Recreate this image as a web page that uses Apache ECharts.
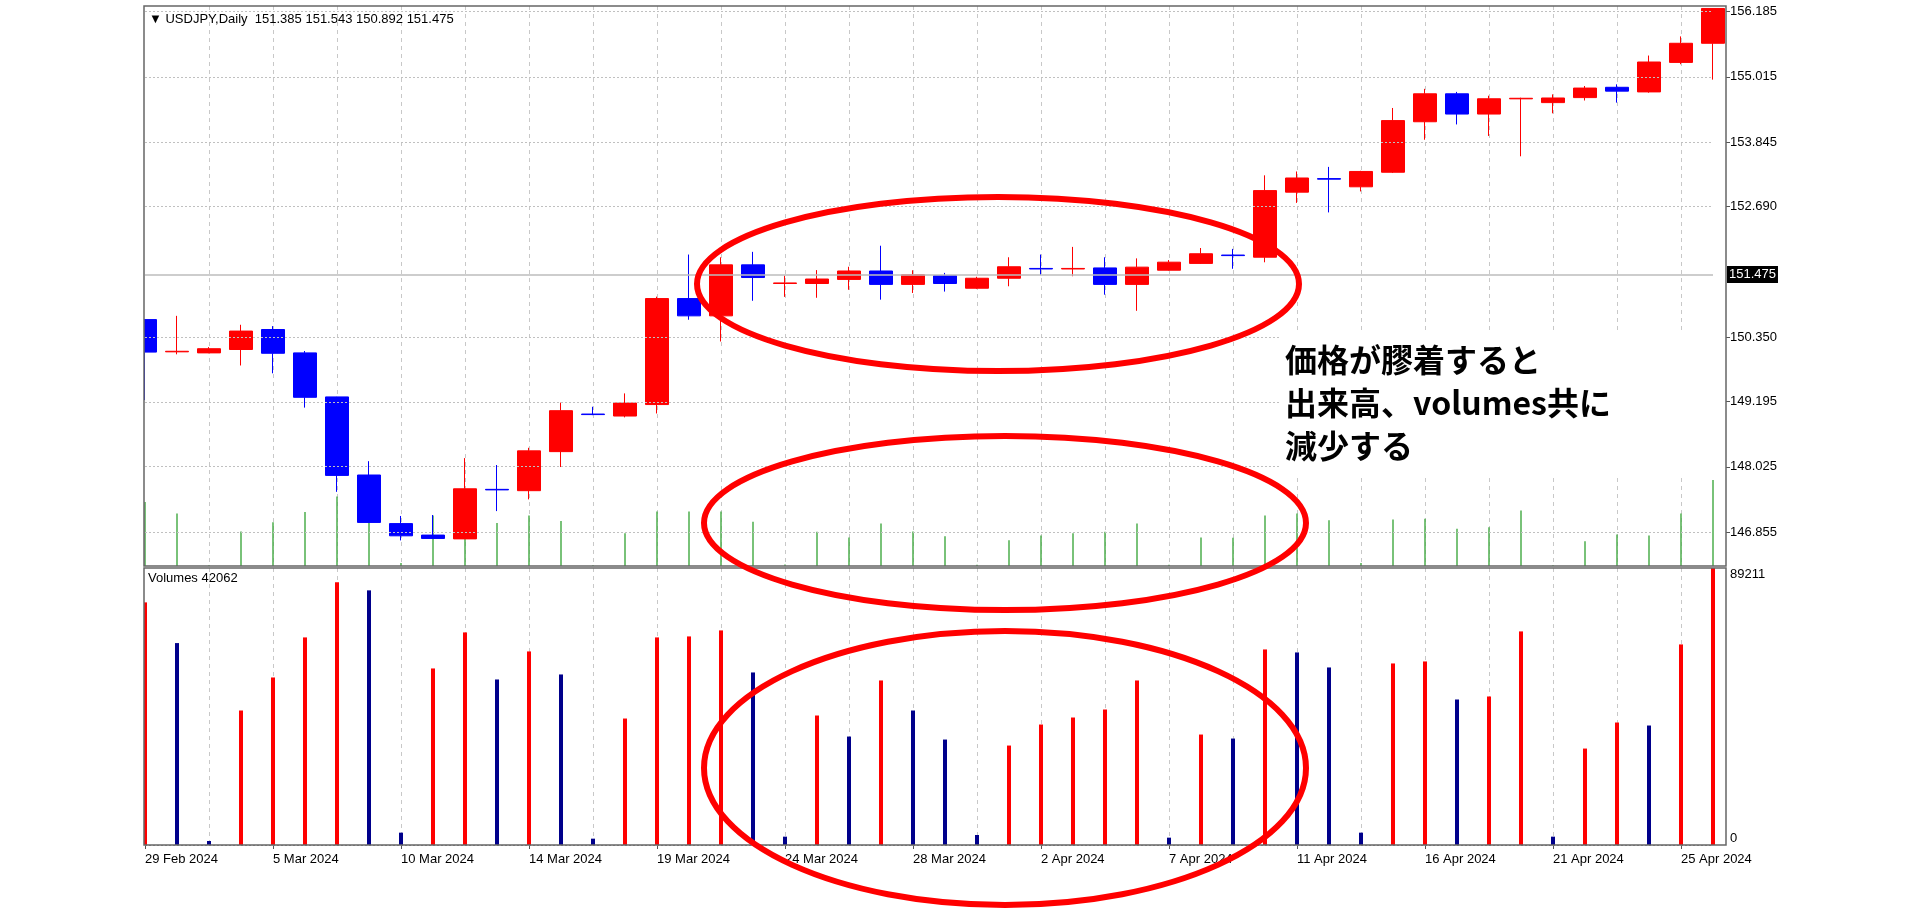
<!DOCTYPE html>
<html><head><meta charset="utf-8">
<script src="https://cdn.jsdelivr.net/npm/echarts@6/dist/echarts.min.js"></script>
<style>html,body{margin:0;padding:0;background:#fff}#c{width:1920px;height:914px}</style>
</head><body><div id="c"></div>
<script>
const dates = ['29 Feb 2024','1 Mar 2024','3 Mar 2024','4 Mar 2024','5 Mar 2024','6 Mar 2024','7 Mar 2024','8 Mar 2024','10 Mar 2024','11 Mar 2024','12 Mar 2024','13 Mar 2024','14 Mar 2024','15 Mar 2024','17 Mar 2024','18 Mar 2024','19 Mar 2024','20 Mar 2024','21 Mar 2024','22 Mar 2024','24 Mar 2024','25 Mar 2024','26 Mar 2024','27 Mar 2024','28 Mar 2024','29 Mar 2024','31 Mar 2024','1 Apr 2024','2 Apr 2024','3 Apr 2024','4 Apr 2024','5 Apr 2024','7 Apr 2024','8 Apr 2024','9 Apr 2024','10 Apr 2024','11 Apr 2024','12 Apr 2024','14 Apr 2024','15 Apr 2024','16 Apr 2024','17 Apr 2024','18 Apr 2024','19 Apr 2024','21 Apr 2024','22 Apr 2024','23 Apr 2024','24 Apr 2024','25 Apr 2024','26 Apr 2024'];
const opens  = [150.663,150.085,150.066,150.127,150.485,150.066,149.277,147.877,147.006,146.80,146.732,147.62,147.596,148.296,148.97,148.934,149.14,151.04,150.73,151.644,151.31,151.31,151.383,151.534,151.294,151.45,151.225,151.404,151.58,151.57,151.589,151.294,151.548,151.67,151.82,151.781,152.947,153.19,153.043,153.304,154.209,154.71,154.347,154.62,154.552,154.642,154.827,154.744,155.273,155.616];
const closes = [150.08,150.095,150.141,150.457,150.059,149.27,147.87,147.027,146.787,146.74,147.63,147.61,148.31,149.03,148.96,149.167,151.04,150.73,151.644,151.417,151.32,151.39,151.534,151.294,151.465,151.31,151.404,151.61,151.57,151.58,151.294,151.603,151.692,151.843,151.81,152.975,153.201,153.18,153.318,154.23,154.71,154.347,154.621,154.63,154.635,154.813,154.758,155.28,155.616,156.24];
const lows   = [149.22,150.04,150.06,149.84,149.70,149.085,147.575,147.02,146.705,146.735,146.73,147.23,147.44,148.02,148.95,148.91,148.98,150.66,150.27,151.0,151.07,151.054,151.197,151.02,151.14,151.165,151.21,151.26,151.465,151.44,151.109,150.82,151.54,151.66,151.574,151.69,152.755,152.584,152.96,153.29,153.887,154.161,153.955,153.59,154.36,154.59,154.552,154.73,155.24,154.964];
const highs  = [150.663,150.73,150.17,150.57,150.546,150.10,149.28,148.125,147.143,147.16,148.18,148.056,148.365,149.174,149.10,149.34,151.074,151.829,151.78,151.877,151.45,151.55,151.61,151.987,151.547,151.50,151.43,151.78,151.829,151.966,151.78,151.76,151.73,151.946,151.93,153.249,153.318,153.40,153.33,154.456,154.799,154.744,154.676,154.64,154.70,154.85,154.88,155.396,155.739,156.24];
const volumes = [78140,65030,1290,43315,53955,66855,84590,82010,3977,56860,68465,53310,62340,54925,2042,40735,66855,67175,69110,55570,2687,41705,34930,52990,43315,33965,3225,32030,38800,41060,43640,52990,2365,35577,34287,62985,62017,57180,3977,58470,59115,46862,47830,68790,2687,31062,39446,38480,64597,89211];
const tickVols = [168,138,2,91,115,142,183,175,8,133,148,113,133,118,2,86,143,143,143,116,4,90,75,112,91,78,3,68,80,86,90,112,3,75,74,133,138,120,8,122,124,98,102,146,2,65,83,80,138,226];
const priceTicks = [146.855,148.025,149.195,150.350,151.475,152.690,153.845,155.015,156.185];
const priceLabels = [146.855,148.025,149.195,150.350,152.690,153.845,155.015,156.185];
const lastPrice = 151.475;
const volTicks = [0,89211];

const candles = opens.map((o,i)=>[o,closes[i],lows[i],highs[i]]);
const volData = volumes.map((v,i)=>({value:v,itemStyle:{color:(i>0&&v<volumes[i-1])?'#00008b':'#ff0000'}}));
const F = 'Liberation Sans';
const chart = echarts.init(document.getElementById('c'));
const vsplit = {show:true,interval:(i)=>i>0&&i%2===0,lineStyle:{color:'#c8c8c8',type:[4,4]}};
function ell(cx,cy,rx,ry){return {type:'ellipse',shape:{cx,cy,rx,ry},style:{fill:null,stroke:'#ff0000',lineWidth:6},z:120};}
chart.setOption({
  animation:false,
  textStyle:{fontFamily:F},
  grid:[{left:145,width:1568,top:6,height:560},{left:145,width:1568,top:568,height:277}],
  xAxis:[
    {type:'category',gridIndex:0,data:dates,boundaryGap:false,axisLine:{show:false},axisTick:{show:false},axisLabel:{show:false},splitLine:vsplit},
    {type:'category',gridIndex:1,data:dates,boundaryGap:false,axisLine:{show:false},axisTick:{show:true,interval:3,length:4,lineStyle:{color:'#555'}},
     axisLabel:{interval:3,align:'left',color:'#000',fontSize:13,margin:8,fontFamily:F},splitLine:vsplit}
  ],
  yAxis:[
    {type:'value',gridIndex:0,position:'right',offset:13,min:146.246,max:156.284,
     axisLine:{show:false},axisTick:{show:true,customValues:priceLabels,length:4,lineStyle:{color:'#555'}},
     axisLabel:{customValues:priceLabels,color:'#000',fontSize:13,margin:4,fontFamily:F,formatter:v=>v.toFixed(3)},
     splitLine:{show:false}},
    {type:'value',gridIndex:0,min:0,max:1472,show:false},
    {type:'value',gridIndex:1,position:'right',offset:13,min:0,max:89211,axisLine:{show:false},
     axisTick:{show:false},axisLabel:{customValues:volTicks,color:'#000',fontSize:13,margin:4,fontFamily:F,formatter:v=>String(v),verticalAlignMinLabel:'bottom',verticalAlignMaxLabel:'top'},
     splitLine:{show:false}}
  ],
  series:[
    {type:'line',xAxisIndex:0,yAxisIndex:0,data:[],silent:true,
     markLine:{symbol:'none',silent:true,label:{show:false},lineStyle:{color:'#c0c0c0',type:[2,2],width:1},
       data:priceTicks.filter(v=>v!==lastPrice).map(v=>({yAxis:v}))}},
    {type:'bar',xAxisIndex:0,yAxisIndex:1,data:tickVols,barWidth:1.5,itemStyle:{color:'#4cae4c'},silent:true},
    {type:'candlestick',xAxisIndex:0,yAxisIndex:0,data:candles,barWidth:24,clip:false,
     itemStyle:{color:'#ff0000',color0:'#0000ff',borderColor:'#ff0000',borderColor0:'#0000ff',borderWidth:1},
     markLine:{symbol:'none',silent:true,lineStyle:{color:'#bdbdbd',type:'solid',width:1.5},
       label:{show:true,position:'end',distance:14,formatter:()=>lastPrice.toFixed(3),color:'#fff',backgroundColor:'#000',padding:[2,2],fontSize:13,fontFamily:F},
       data:[{yAxis:lastPrice}]}},
    {type:'bar',xAxisIndex:1,yAxisIndex:2,data:volData,barWidth:4,silent:true,
     markLine:{symbol:'none',silent:true,label:{show:false},lineStyle:{color:'#999',type:[2,2],width:1},data:[{yAxis:0}]}}
  ],
  graphic:[
    {type:'rect',shape:{x:0,y:0,width:144,height:914},style:{fill:'#fff'},z:100},
    {type:'rect',shape:{x:144,y:6,width:1582,height:560},style:{fill:null,stroke:'#666',lineWidth:1.5},z:101},
    {type:'rect',shape:{x:144,y:568,width:1582,height:277},style:{fill:null,stroke:'#666',lineWidth:1.5},z:101},
    {type:'text',left:149,top:13,style:{text:'▼ USDJPY,Daily  151.385 151.543 150.892 151.475',fontSize:13,fontFamily:F,fill:'#000'},z:110},
    {type:'text',left:148,top:572,style:{text:'Volumes 42062',fontSize:13,fontFamily:F,fill:'#000'},z:110},
    {type:'rect',shape:{x:1281,y:333,width:441,height:145},style:{fill:'#fff'},z:105},
    {type:'text',left:1285,top:338,style:{text:'価格が膠着すると\n出来高、volumes共に\n減少する',fontSize:32,fontWeight:'bold',lineHeight:43,fontFamily:'Noto Sans CJK JP',fill:'#000'},z:110},
    ell(998,284,301,87),
    ell(1005,523,301,87),
    ell(1005,768,301,137)
  ]
});
</script></body></html>
